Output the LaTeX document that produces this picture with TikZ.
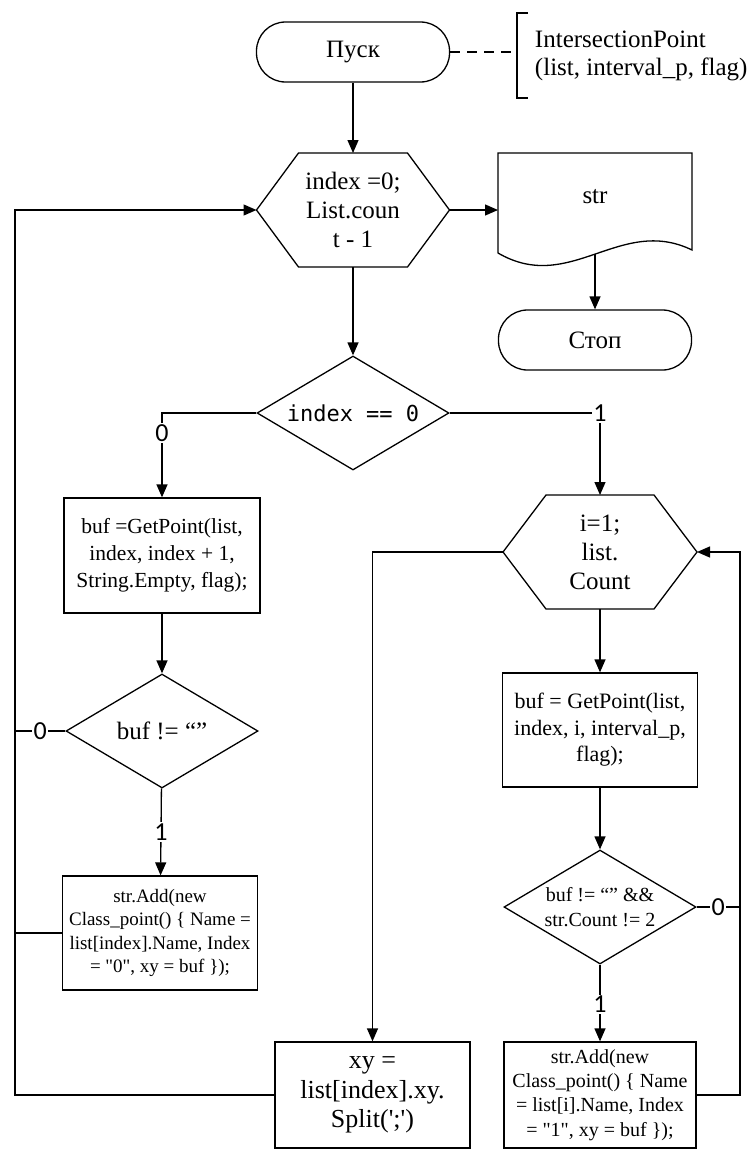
\documentclass[tikz,border=0pt]{standalone}
\usepackage{fontspec}
\setmainfont{Liberation Serif}[Ligatures=TeXOff]
\newfontfamily\codefont{DejaVu Sans Mono}
\newfontfamily\labfont{Carlito}
\usetikzlibrary{calc,arrows.meta,shapes.geometric}
\def\bigtxt{\fontsize{25}{29}\selectfont}

\begin{document}
\begin{tikzpicture}[x=1pt,y=-1pt,line width=1.3pt,
    >={Triangle[length=13pt,width=11pt]},
    term/.style={draw,rounded corners=29pt,minimum width=193pt,minimum height=60pt,font=\bigtxt},
    hexa/.style={minimum width=193pt,minimum height=114pt,inner sep=0pt,outer sep=0pt,align=center,font=\bigtxt},
    proc/.style={draw,minimum width=196pt,minimum height=115pt,inner sep=2pt,align=center},
    dec/.style={draw,diamond,aspect=1.68,inner sep=0pt,minimum width=192pt,minimum height=114pt,align=center},
    lab/.style={fill=white,inner sep=1.5pt,font=\labfont\fontsize{26}{26}\selectfont}]
    \useasboundingbox (0,0) rectangle (748,1151);
    % start and comment
    \node[term] (start) at (353,52) {Пуск};
    \draw[dash pattern=on 10pt off 7pt] (start.east) -- (517,52);
    \draw (528,13) -- (517,13) -- (517,98) -- (528,98);
    \node[anchor=west,align=left,font=\fontsize{25}{28}\selectfont] (note) at (531,56) {IntersectionPoint\\(list, interval\_p, flag)};
    % outer loop
    \node[hexa] (loop1) at (353,210) {index =0;\\List.coun\\t - 1};
    \draw (loop1.west) -- ($(loop1.north west)+(42,0)$) -- ($(loop1.north east)+(-42,0)$) -- (loop1.east)
        -- ($(loop1.south east)+(-42,0)$) -- ($(loop1.south west)+(42,0)$) -- cycle;
    \draw[->] (start) -- (loop1);
    % output
    \draw (498,153) -- (692,153) -- (692,250) .. controls (620,215) and (570,295) .. (498,253) -- cycle;
    \coordinate (outw) at (498,210);
    \coordinate (outb) at (595,254);
    \node[font=\bigtxt] (out) at (595,197) {str};
    \draw[->] (loop1.east) -- (outw);
    \node[term] (stop) at (595,340) {Стоп};
    \draw[->] (outb) -- (stop.north);
    % first check
    \node[dec,font=\codefont\fontsize{22}{26}\selectfont] (chk1) at (353,413) {index == 0};
    \draw[->] (loop1) -- (chk1);
    % left branch
    \node[proc,font=\fontsize{21.5}{27}\selectfont] (get1) at (162,555.5) {buf =GetPoint(list,\\index, index + 1,\\String.Empty, flag);};
    \coordinate (c0) at (162,413);
    \draw[->] (chk1.west) -- (c0) -- (get1.north) node[lab,pos=0.235]{0};
    \node[dec,font=\bigtxt] (chk2) at (162,731) {buf != “”};
    \draw[->] (get1) -- (chk2);
    \node[proc,minimum width=195pt,minimum height=114pt,font=\fontsize{19}{23.5}\selectfont] (add1) at (160,933)
        {str.Add(new\\Class\_point() \{ Name =\\list[index].Name, Index\\= "0", xy = buf \});};
    \draw[->] (chk2) -- (add1) node[lab,pos=0.5]{1};
    % right branch
    \node[hexa,minimum width=194pt] (loop2) at (600,552) {i=1;\\list.\\Count};
    \draw (loop2.west) -- ($(loop2.north west)+(43,0)$) -- ($(loop2.north east)+(-43,0)$) -- (loop2.east)
        -- ($(loop2.south east)+(-43,0)$) -- ($(loop2.south west)+(43,0)$) -- cycle;
    \coordinate (c1) at (600,413);
    \draw[->] (chk1.east) -- (c1) node[lab]{1} -- (loop2.north);
    \node[proc,minimum width=195pt,minimum height=114pt,font=\fontsize{22}{26.5}\selectfont] (get2) at (600,730)
        {buf = GetPoint(list,\\index, i, interval\_p,\\flag);};
    \draw[->] (loop2) -- (get2);
    \node[dec,font=\fontsize{20}{25}\selectfont] (chk3) at (600,907) {buf != “” \&\&\\str.Count != 2};
    \draw[->] (get2) -- (chk3);
    \node[proc,minimum width=192pt,minimum height=106pt,font=\fontsize{20}{24.3}\selectfont] (add2) at (600,1095)
        {str.Add(new\\Class\_point() \{ Name\\= list[i].Name, Index\\= "1", xy = buf \});};
    \draw[->] (chk3) -- (add2) node[lab,pos=0.52]{1};
    \node[proc,minimum width=195pt,minimum height=106pt,font=\fontsize{26}{29.5}\selectfont] (split) at (372.5,1095)
        {xy =\\list[index].xy.\\Split(';')};
    \draw[->] (loop2.west) -| (split.north);
    % loop backs
    \coordinate (rt) at (740,552);
    \draw[->] (add2.east) -| (rt) -- (loop2.east);
    \draw (chk3.east) -- (chk3.east -| rt) node[lab,midway]{0};
    \coordinate (lt) at (15,210);
    \draw[->] (split.west) -| (lt) -- (loop1.west);
    \draw (chk2.west) -- (chk2.west -| lt) node[lab,midway]{0};
    \draw (add1.west) -- (add1.west -| lt);
\end{tikzpicture}
\end{document}
